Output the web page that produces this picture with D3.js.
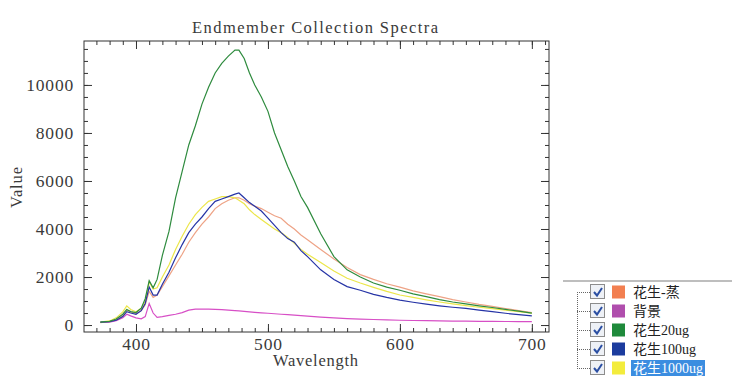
<!DOCTYPE html>
<html>
<head>
<meta charset="utf-8">
<script src="https://cdn.jsdelivr.net/npm/d3@7"></script>
<style>
  body { margin: 0; background: #fff; }
  text { fill: #3a3a3a; }
</style>
</head>
<body>
<svg id="chart" width="743" height="384"></svg>
<script>
/* **************************************************************** *
 *   Data
 * **************************************************************** */
const wavelengths = [373, 380, 385, 390, 393, 396, 400, 404, 407, 410, 413, 416, 420, 425, 430, 435, 440, 445, 450, 455,
    460, 465, 470, 475, 478, 482, 486, 490, 495, 500, 505, 510, 515, 520, 525, 530, 540, 550, 560, 570,
    580, 590, 600, 610, 620, 630, 640, 650, 660, 670, 680, 690, 700];

const peanutSteamed = [100, 150, 220, 400, 620, 550, 480, 600, 850, 1400, 1150, 1250, 1600, 2050, 2500, 2950, 3450, 3850, 4200, 4500,
    4850, 5050, 5200, 5300, 5300, 5200, 5050, 4950, 4850, 4700, 4550, 4450, 4200, 4000, 3750, 3550, 3150, 2750, 2400, 2100,
    1900, 1720, 1580, 1420, 1300, 1180, 1060, 960, 860, 780, 690, 600, 520];

const background = [110, 120, 180, 300, 450, 380, 300, 260, 350, 900, 500, 320, 350, 400, 450, 520, 620, 660, 660, 660,
    650, 640, 620, 600, 590, 570, 550, 530, 510, 490, 470, 450, 430, 410, 390, 370, 330, 300, 270, 250,
    230, 215, 200, 190, 180, 170, 165, 160, 155, 150, 148, 145, 140];

const peanut20ug = [120, 150, 250, 450, 650, 560, 520, 700, 1100, 1850, 1550, 1900, 2900, 3900, 5300, 6400, 7500, 8300, 9200, 9900,
    10500, 10900, 11200, 11450, 11450, 11100, 10500, 10000, 9500, 8900, 8000, 7300, 6600, 6000, 5350, 4900, 3800, 2850, 2300, 2000,
    1750, 1580, 1450, 1300, 1180, 1060, 960, 880, 800, 730, 650, 580, 500];

const peanut100ug = [120, 140, 200, 350, 560, 500, 450, 600, 900, 1580, 1250, 1250, 1700, 2200, 2800, 3350, 3850, 4200, 4500, 4850,
    5150, 5250, 5350, 5450, 5500, 5300, 5100, 4950, 4750, 4450, 4150, 3850, 3600, 3450, 3100, 2850, 2300, 1900, 1600, 1450,
    1280, 1150, 1040, 950, 870, 800, 740, 690, 620, 560, 490, 430, 380];

const peanut1000ug = [120, 170, 300, 550, 800, 650, 550, 700, 1000, 1790, 1500, 1550, 2000, 2500, 3150, 3700, 4200, 4600, 4900, 5150,
    5250, 5350, 5350, 5300, 5200, 5050, 4800, 4600, 4400, 4200, 4000, 3850, 3650, 3400, 3150, 2950, 2600, 2250, 1950, 1750,
    1570, 1400, 1250, 1150, 1050, 960, 880, 810, 740, 680, 620, 560, 500];

const seriesNames  = ['花生-蒸', '背景', '花生20ug', '花生100ug', '花生1000ug'];
const seriesValues = [peanutSteamed, background, peanut20ug, peanut100ug, peanut1000ug];
const lineColors   = ['#eea386', '#d74fc6', '#2e8b3e', '#2634a6', '#ece64a'];
const swatchColors = ['#f27f50', '#b04ead', '#1f8a3b', '#1c3c9e', '#f3ec3c'];

const yTicks = [0, 2000, 4000, 6000, 8000, 10000];
const xTicks = [400, 500, 600, 700];

/* **************************************************************** *
 *   Scale
 * **************************************************************** */
let svg = d3.select('#chart');
let box = { left: 84, top: 41, right: 549, bottom: 332 };

let x = d3.scaleLinear().domain([360.6, 713]).range([box.left, box.right]);
let y = d3.scaleLinear().domain([-290, 11830]).range([box.bottom, box.top]);

/* **************************************************************** *
 *   Axes (ticks on all four sides, pointing inward)
 * **************************************************************** */
let xMinor = d3.range(370, 711, 10);
let yMinor = d3.range(0, 11600, 500);
let serif = '"Liberation Serif", "Times New Roman", serif';

let addAxis = (axis, tx, ty) => {
    let g = svg.append('g')
        .attr('transform', 'translate(' + tx + ',' + ty + ')')
        .call(axis);
    g.select('.domain').remove();
    g.selectAll('line').attr('stroke', '#333');
    return g;
};

// minor ticks
addAxis(d3.axisBottom(x).tickValues(xMinor).tickSize(-4).tickFormat(''), 0, box.bottom);
addAxis(d3.axisTop(x).tickValues(xMinor).tickSize(-4).tickFormat(''), 0, box.top);
addAxis(d3.axisLeft(y).tickValues(yMinor).tickSize(-4).tickFormat(''), box.left, 0);
addAxis(d3.axisRight(y).tickValues(yMinor).tickSize(-4).tickFormat(''), box.right, 0);

// major ticks
let gx = addAxis(d3.axisBottom(x).tickValues(xTicks).tickSize(-8).tickPadding(6).tickFormat(d3.format('d')), 0, box.bottom);
addAxis(d3.axisTop(x).tickValues(xTicks).tickSize(-8).tickFormat(''), 0, box.top);
let gy = addAxis(d3.axisLeft(y).tickValues(yTicks).tickSize(-8).tickPadding(10).tickFormat(d3.format('d')), box.left, 0);
addAxis(d3.axisRight(y).tickValues(yTicks).tickSize(-8).tickFormat(''), box.right, 0);

[gx, gy].forEach((g) => {
    g.selectAll('text')
        .attr('font-family', serif)
        .attr('font-size', 17.5)
        .attr('letter-spacing', 0.8)
        .attr('fill', '#444');
});

svg.append('rect')
    .attr('x', box.left)
    .attr('y', box.top)
    .attr('width', box.right - box.left)
    .attr('height', box.bottom - box.top)
    .attr('fill', 'none')
    .attr('stroke', '#333')
    .attr('stroke-width', 1);

/* **************************************************************** *
 *   Spectra
 * **************************************************************** */
let line = d3.line()
    .x((d) => { return x(d.wl); })
    .y((d) => { return y(d.v); });

let drawOrder = [0, 1, 4, 3, 2];
svg.append('g')
    .selectAll('path.spectrum')
    .data(drawOrder)
    .enter()
    .append('path')
    .attr('class', 'spectrum')
    .attr('fill', 'none')
    .attr('stroke', (i) => { return lineColors[i]; })
    .attr('stroke-width', 1.2)
    .attr('d', (i) => {
        return line(wavelengths.map((wl, k) => { return { wl: wl, v: seriesValues[i][k] }; }));
    });

/* **************************************************************** *
 *   Titles
 * **************************************************************** */
svg.append('text')
    .attr('x', 192).attr('y', 33)
    .attr('font-family', serif)
    .attr('font-size', 16.5)
    .attr('textLength', 246)
    .attr('lengthAdjust', 'spacing')
    .text('Endmember Collection Spectra');

svg.append('text')
    .attr('x', 273).attr('y', 366)
    .attr('font-family', serif)
    .attr('font-size', 16.5)
    .attr('textLength', 85)
    .attr('lengthAdjust', 'spacing')
    .text('Wavelength');

svg.append('text')
    .attr('transform', 'translate(22,208) rotate(-90)')
    .attr('font-family', serif)
    .attr('font-size', 16.5)
    .attr('textLength', 41)
    .attr('lengthAdjust', 'spacing')
    .text('Value');

/* **************************************************************** *
 *   Legend (tree with check boxes)
 * **************************************************************** */
let legend = svg.append('g');
let rowY = (i) => { return 292 + i * 19; };

legend.append('line')
    .attr('x1', 563).attr('x2', 732)
    .attr('y1', 281).attr('y2', 281)
    .attr('stroke', '#a8a8a8')
    .attr('stroke-width', 1.5);

legend.append('line')
    .attr('x1', 577.5).attr('x2', 577.5)
    .attr('y1', rowY(0)).attr('y2', rowY(seriesNames.length - 1))
    .attr('stroke', '#666')
    .attr('stroke-dasharray', '1,1');

let rows = legend.selectAll('g.row')
    .data(seriesNames)
    .enter()
    .append('g')
    .attr('class', 'row')
    .attr('transform', (d, i) => { return 'translate(0,' + rowY(i) + ')'; });

rows.append('line')
    .attr('x1', 577).attr('x2', 590)
    .attr('y1', 0.5).attr('y2', 0.5)
    .attr('stroke', '#666')
    .attr('stroke-dasharray', '1,1');

rows.append('rect')
    .attr('x', 590.5).attr('y', -7.5)
    .attr('width', 14).attr('height', 14)
    .attr('fill', '#eef1f6')
    .attr('stroke', '#8c8c8c');

rows.append('path')
    .attr('d', 'M594,0 L597,3.5 L602,-4')
    .attr('fill', 'none')
    .attr('stroke', '#2b4fa3')
    .attr('stroke-width', 2);

rows.append('rect')
    .attr('x', 612).attr('y', -6.5)
    .attr('width', 13).attr('height', 13)
    .attr('fill', (d, i) => { return swatchColors[i]; });

rows.filter((d, i) => { return i == seriesNames.length - 1; })
    .append('rect')
    .attr('x', 631).attr('y', -8)
    .attr('width', 74).attr('height', 16)
    .attr('fill', '#3b8de0');

rows.append('text')
    .attr('x', 633).attr('y', 5)
    .attr('font-family', '"Liberation Serif", "Noto Sans CJK SC", serif')
    .attr('font-size', 14)
    .style('fill', (d, i) => { return i == seriesNames.length - 1 ? '#fff' : '#222'; })
    .text((d) => { return d; });
</script>
</body>
</html>
